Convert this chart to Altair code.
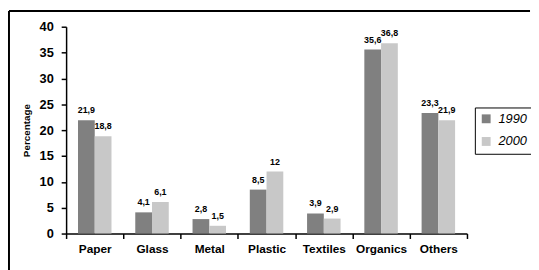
import altair as alt
import pandas as pd

categories = ["Paper", "Glass", "Metal", "Plastic", "Textiles", "Organics", "Others"]
years = ["1990", "2000"]
values_1990 = [21.9, 4.1, 2.8, 8.5, 3.9, 35.6, 23.3]
values_2000 = [18.8, 6.1, 1.5, 12, 2.9, 36.8, 21.9]
colors = ["#808080", "#C8C8C8"]

rows = []
for yr, vals in zip(years, [values_1990, values_2000]):
    for c, v in zip(categories, vals):
        rows.append({"category": c, "year": yr, "value": v,
                     "label": f"{v:g}".replace(".", ",")})
df = pd.DataFrame(rows)

FONT = "Liberation Sans"

x_enc = alt.X("category:N", sort=categories,
              scale=alt.Scale(paddingInner=0, paddingOuter=0),
              axis=alt.Axis(title=None, labelAngle=0, labelFontSize=12, labelFontWeight="bold",
                            labelColor="black", tickBand="extent", tickSize=5, tickColor="black",
                            tickWidth=1.5, domainColor="black", domainWidth=1.5,
                            labelPadding=5, labelFont=FONT))
xoff_enc = alt.XOffset("year:N", sort=years,
                       scale=alt.Scale(paddingOuter=0.71, paddingInner=0))
y_enc = alt.Y("value:Q", scale=alt.Scale(domain=[0, 40], nice=False),
              axis=alt.Axis(title="Percentage", values=[0, 5, 10, 15, 20, 25, 30, 35, 40],
                            grid=False, labelFontSize=13, labelFontWeight="bold",
                            labelColor="black", tickSize=5, tickColor="black", tickWidth=1.5,
                            domainColor="black", domainWidth=1.5, labelPadding=8,
                            titleFontSize=10, titleFontWeight="bold", titleColor="black",
                            titlePadding=8, labelFont=FONT, titleFont=FONT))

base = alt.Chart(df)

bars = base.mark_bar().encode(
    x=x_enc,
    xOffset=xoff_enc,
    y=y_enc,
    color=alt.Color("year:N", sort=years,
                    scale=alt.Scale(domain=years, range=colors),
                    legend=alt.Legend(title=None, orient="none", legendX=415, legendY=82,
                                      symbolType="square", symbolSize=81, symbolStrokeWidth=0,
                                      symbolOpacity=1,
                                      labelFontSize=13, labelFontStyle="italic",
                                      labelFont=FONT, labelColor="black", labelOffset=6,
                                      rowPadding=9, padding=5, strokeColor="black",
                                      fillColor="white")),
)

text = base.mark_text(baseline="alphabetic", dy=-7, fontSize=9, fontWeight="bold",
                      font=FONT, color="black").encode(
    x=x_enc,
    xOffset=xoff_enc,
    y=y_enc,
    text="label:N",
)

frame = alt.Chart(alt.Data(values=[{"a": 1}])).mark_rule(color="black", strokeWidth=2).encode(
    x=alt.value(-58), x2=alt.value(471), y=alt.value(-16), y2=alt.value(-16)
)
frame_left = alt.Chart(alt.Data(values=[{"a": 1}])).mark_rule(color="black", strokeWidth=2).encode(
    x=alt.value(-58), x2=alt.value(-58), y=alt.value(-16), y2=alt.value(260)
)

chart = alt.layer(bars, text, frame, frame_left).properties(
    width=407, height=210,
    autosize="none",
    padding={"left": 59, "top": 17, "right": 65, "bottom": 35},
).configure(font=FONT, view=alt.ViewConfig(stroke=None))

chart.save("out.html", embed_options={"renderer": "svg", "actions": False})
